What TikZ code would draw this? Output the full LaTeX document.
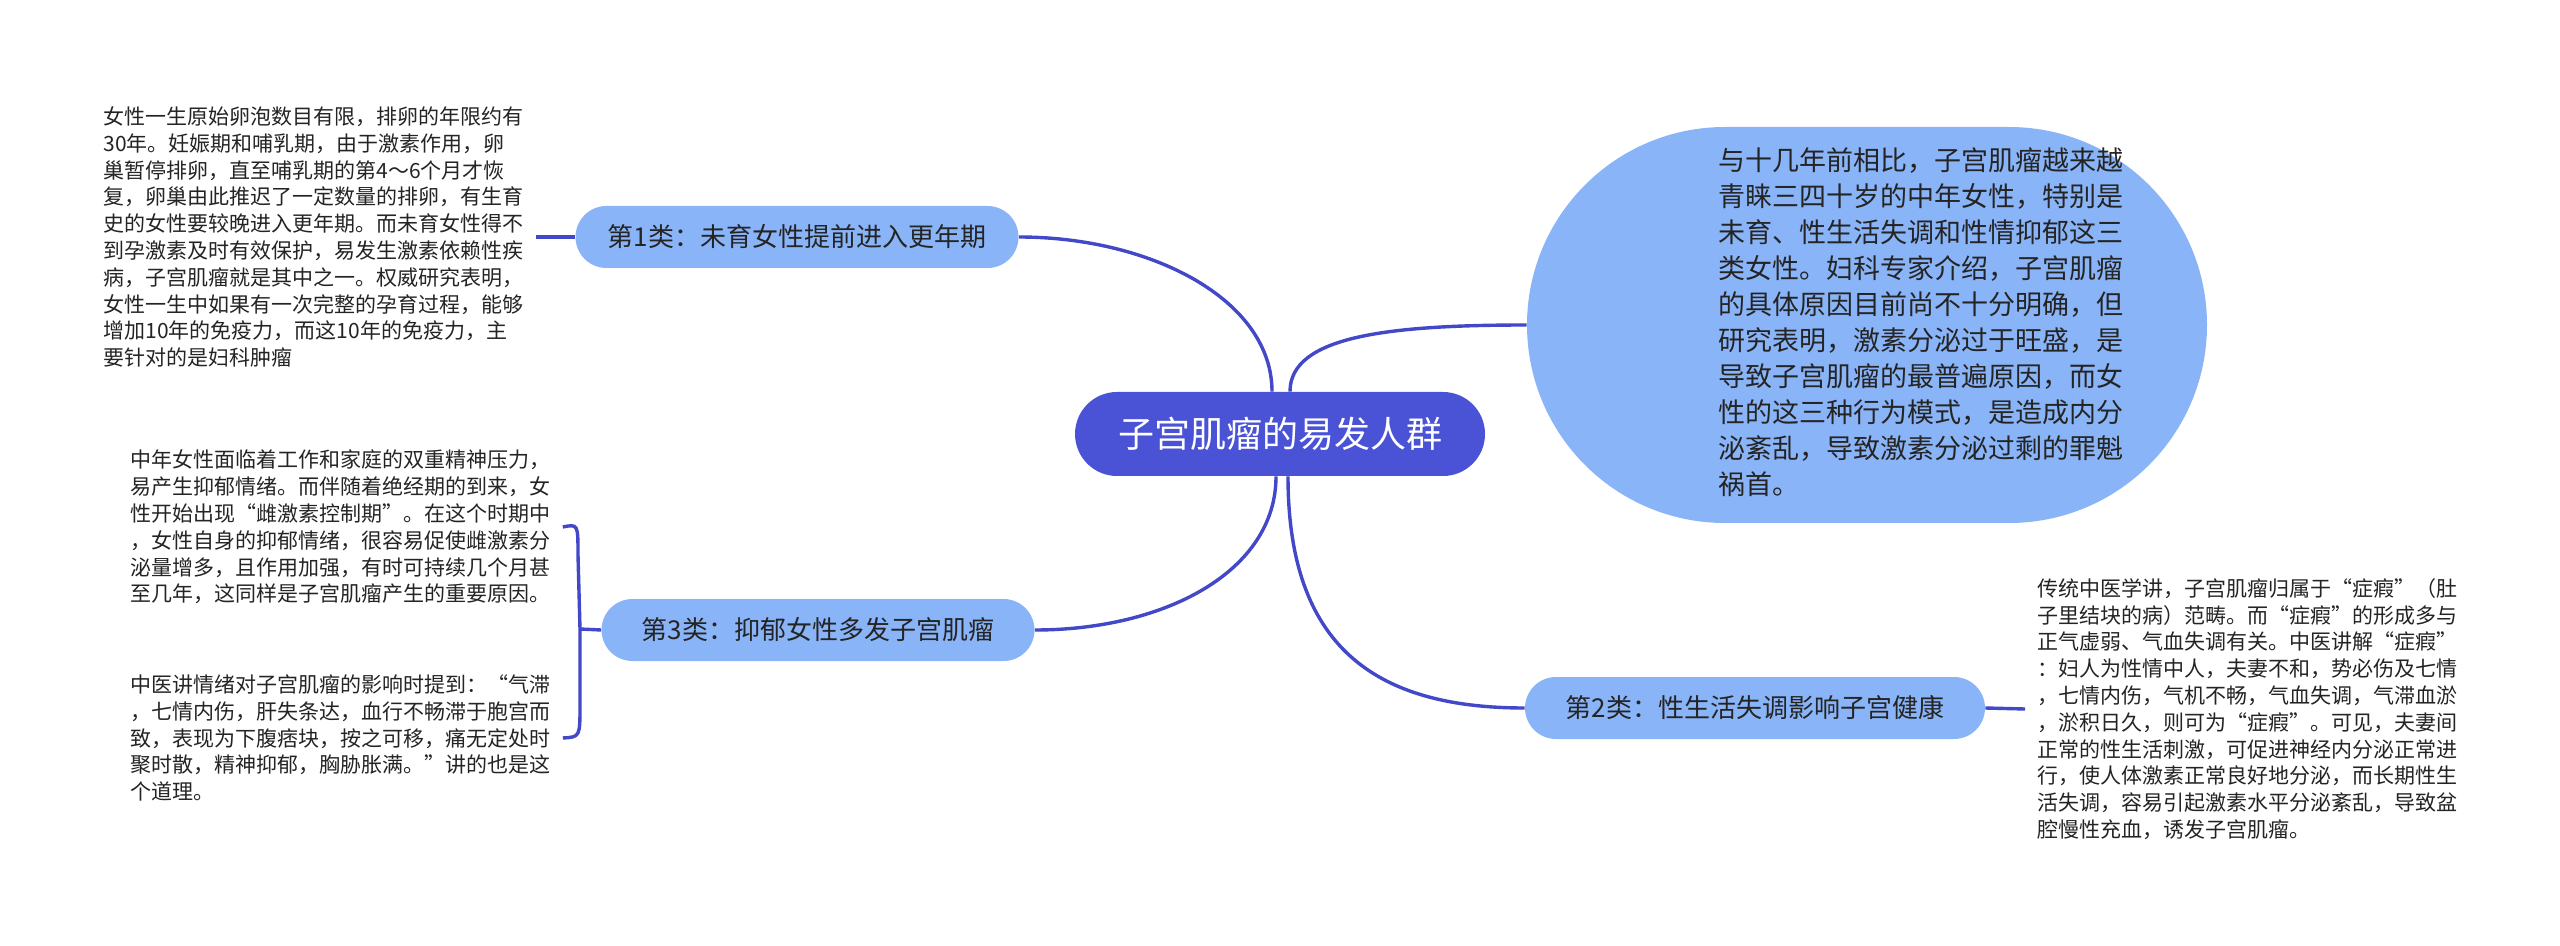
\documentclass[tikz,border=0pt]{standalone}
\usepackage{fontspec}
\setmainfont{Noto Sans CJK SC}
\usetikzlibrary{positioning}
\definecolor{RootClr}{RGB}{74,82,214}
\definecolor{TopicClr}{RGB}{138,180,248}
\definecolor{LinkClr}{RGB}{66,72,200}
\definecolor{NoteClr}{RGB}{36,36,36}

\begin{document}
\begin{tikzpicture}[x=0.5pt,y=-0.5pt,
  root/.style={fill=RootClr,text=white,rounded corners=21pt,minimum height=42pt,
    minimum width=205pt,inner sep=0pt,font=\fontsize{18}{22}\selectfont},
  topic/.style={fill=TopicClr,text=NoteClr,rounded corners=15.5pt,minimum height=31pt,
    inner sep=0pt,font=\fontsize{13}{16}\selectfont},
  note/.style={text=NoteClr,align=left,inner xsep=6pt,inner ysep=0pt,
    font=\fontsize{10.5}{13.4}\selectfont},
  link/.style={draw=LinkClr,line width=1.7pt}]
\fill[white] (0,0) rectangle (2560,946);
\useasboundingbox (0,0) rectangle (2560,946);

% the big oval on the right
\node[fill=TopicClr,rounded corners=99pt,minimum width=340pt,minimum height=198pt,inner sep=0pt] (ov) at (1867,325) {};
\node[text=NoteClr,align=left,inner sep=0pt,font=\fontsize{13.5}{18}\selectfont,anchor=west] (ovtext) at (1718,322) {%
与十几年前相比，子宫肌瘤越来越\\
青睐三四十岁的中年女性，特别是\\
未育、性生活失调和性情抑郁这三\\
类女性。妇科专家介绍，子宫肌瘤\\
的具体原因目前尚不十分明确，但\\
研究表明，激素分泌过于旺盛，是\\
导致子宫肌瘤的最普遍原因，而女\\
性的这三种行为模式，是造成内分\\
泌紊乱，导致激素分泌过剩的罪魁\\
祸首。};

\node[root] (root) at (1280,434) {子宫肌瘤的易发人群};

\node[topic,minimum width=221.5pt] (n1) at (797,237) {第1类：未育女性提前进入更年期};
\node[topic,minimum width=230pt] (n2) at (1755,708) {第2类：性生活失调影响子宫健康};
\node[topic,minimum width=216.5pt] (n3) at (818,630) {第3类：抑郁女性多发子宫肌瘤};

\node[note,anchor=west] (t1) at (91,237) {%
女性一生原始卵泡数目有限，排卵的年限约有\\
30年。妊娠期和哺乳期，由于激素作用，卵\\
巢暂停排卵，直至哺乳期的第4～6个月才恢\\
复，卵巢由此推迟了一定数量的排卵，有生育\\
史的女性要较晚进入更年期。而未育女性得不\\
到孕激素及时有效保护，易发生激素依赖性疾\\
病，子宫肌瘤就是其中之一。权威研究表明，\\
女性一生中如果有一次完整的孕育过程，能够\\
增加10年的免疫力，而这10年的免疫力，主\\
要针对的是妇科肿瘤};

\node[note,anchor=west] (t3a) at (118,527) {%
中年女性面临着工作和家庭的双重精神压力，\\
易产生抑郁情绪。而伴随着绝经期的到来，女\\
性开始出现“雌激素控制期”。在这个时期中\\
，女性自身的抑郁情绪，很容易促使雌激素分\\
泌量增多，且作用加强，有时可持续几个月甚\\
至几年，这同样是子宫肌瘤产生的重要原因。};

\node[note,anchor=west] (t3b) at (118,738) {%
中医讲情绪对子宫肌瘤的影响时提到：“气滞\\
，七情内伤，肝失条达，血行不畅滞于胞宫而\\
致，表现为下腹痞块，按之可移，痛无定处时\\
聚时散，精神抑郁，胸胁胀满。”讲的也是这\\
个道理。};

\node[note,anchor=west] (t2) at (2025,709) {%
传统中医学讲，子宫肌瘤归属于“症瘕”（肚\\
子里结块的病）范畴。而“症瘕”的形成多与\\
正气虚弱、气血失调有关。中医讲解“症瘕”\\
：妇人为性情中人，夫妻不和，势必伤及七情\\
，七情内伤，气机不畅，气血失调，气滞血淤\\
，淤积日久，则可为“症瘕”。可见，夫妻间\\
正常的性生活刺激，可促进神经内分泌正常进\\
行，使人体激素正常良好地分泌，而长期性生\\
活失调，容易引起激素水平分泌紊乱，导致盆\\
腔慢性充血，诱发子宫肌瘤。};

% branches
\draw[link] ([xshift=-4pt]root.north) .. controls +(0,-92) and +(132,0) .. (n1.east);
\draw[link] ([xshift=5pt]root.north) .. controls +(0,-55) and +(-140,0) .. (ov.west);
\draw[link] ([xshift=-2pt]root.south) .. controls +(0,95) and +(130,0) .. (n3.east);
\draw[link] ([xshift=4pt]root.south) .. controls +(0,170) and +(-150,0) .. (n2.west);

\draw[link] (n1.west) -- (t1.east);
\draw[link] (n2.east) -- (t2.west);

\coordinate (j3) at (580,629);
\draw[link] (n3.west) -- (j3);
\draw[link] (j3) -- (578,555) .. controls (578,524) .. (t3a.east);
\draw[link] (j3) -- (580,705) .. controls (580,737) .. (t3b.east);

\end{tikzpicture}
\end{document}
